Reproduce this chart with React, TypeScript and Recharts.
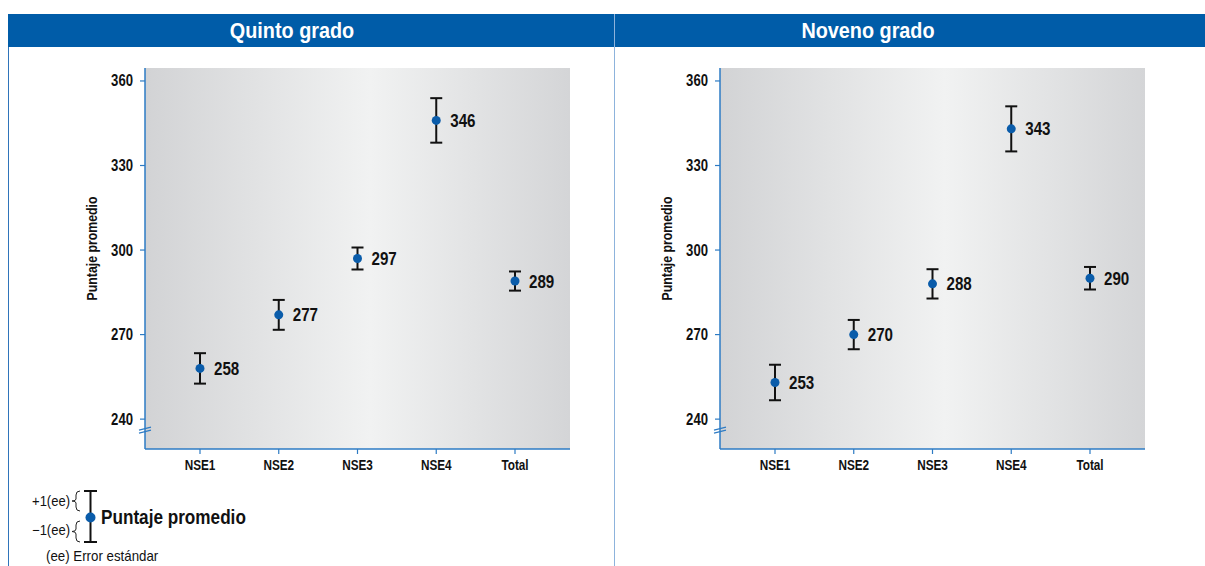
import React from "react";
import {
  ComposedChart,
  XAxis,
  YAxis,
  Scatter,
  ErrorBar,
  LabelList,
  CartesianGrid
} from "recharts";

const categories = ["NSE1", "NSE2", "NSE3", "NSE4", "Total"];
const quintoScores = [258, 277, 297, 346, 289];
const quintoErrors = [5.4, 5.3, 3.9, 7.9, 3.4];
const novenoScores = [253, 270, 288, 343, 290];
const novenoErrors = [6.3, 5.2, 5.2, 8.0, 4.0];
const yTicks = [240, 270, 300, 330, 360];
const yDomain = [229.4, 364.6];

// no condensed face is installed, so Arial-like glyphs get squeezed horizontally
const FONT = "'Liberation Sans', Arial, Helvetica, sans-serif";
const AXIS_BLUE = "#2d7bc4";
const DOT_BLUE = "#0a5caa";
const HEADER_BLUE = "#005ca8";

const buildRows = (scores: number[], errors: number[]) =>
  categories.map((cat, i) => ({ cat, v: scores[i], e: errors[i] }));

interface CTextProps {
  x: number;
  y: number;
  sx: number;
  size: number;
  bold?: boolean;
  anchor?: "start" | "middle" | "end";
  dy?: number;
  children: React.ReactNode;
}

const CText = ({ x, y, sx, size, bold, anchor = "start", dy = 0, children }: CTextProps) => (
  <text
    transform={`translate(${x} ${y}) scale(${sx} 1)`}
    x={0}
    y={dy}
    textAnchor={anchor}
    fontFamily={FONT}
    fontSize={size}
    fontWeight={bold ? "bold" : "normal"}
    fill="#111"
  >
    {children}
  </text>
);

// y tick with the axis break mark drawn under the lowest tick
const YTick = (props: any) => {
  const { x, y, payload } = props;
  const axisX = x + 12;
  return (
    <g>
      <CText x={x} y={y} dy={5.5} sx={0.82} size={16} bold anchor="end">
        {payload.value}
      </CText>
      {payload.value === 240 && (
        <g stroke={AXIS_BLUE} strokeWidth={1.2}>
          <line x1={axisX - 6} y1={y + 11} x2={axisX + 6} y2={y + 8} />
          <line x1={axisX - 6} y1={y + 14} x2={axisX + 6} y2={y + 11} />
        </g>
      )}
    </g>
  );
};

const XTick = (props: any) => {
  const { x, y, payload } = props;
  return (
    <CText x={x} y={y} dy={12.5} sx={0.76} size={15.5} bold anchor="middle">
      {payload.value}
    </CText>
  );
};

const yTitle = (props: any) => {
  const vb = props.viewBox || {};
  const cx = vb.x + vb.width - 53;
  const cy = vb.y + vb.height / 2 - 10;
  return (
    <text
      transform={`translate(${cx} ${cy}) rotate(-90) scale(0.85 1)`}
      x={0}
      y={0}
      textAnchor="middle"
      dominantBaseline="central"
      fontFamily={FONT}
      fontWeight="bold"
      fontSize={14.5}
      fill="#111"
    >
      Puntaje promedio
    </text>
  );
};

const valueLabel = (props: any) => {
  const { x, y, width, height, value } = props;
  const cx = x + (width || 0) / 2;
  const cy = y + (height || 0) / 2;
  return (
    <CText x={cx + 14} y={cy} dy={6.5} sx={0.82} size={18.5} bold>
      {value}
    </CText>
  );
};

const dot = (p: any) => <circle cx={p.cx} cy={p.cy} r={4.5} fill={DOT_BLUE} />;

interface GradeChartProps {
  id: string;
  scores: number[];
  errors: number[];
  width: number;
  yAxisWidth: number;
  rightMargin: number;
}

const GradeChart: React.FC<GradeChartProps> = ({
  id,
  scores,
  errors,
  width,
  yAxisWidth,
  rightMargin
}) => {
  const rows = buildRows(scores, errors);
  return (
    <ComposedChart
      width={width}
      height={470}
      data={rows}
      margin={{ top: 21, right: rightMargin, left: 0, bottom: 38 }}
    >
      <defs>
        <linearGradient id={id} x1="0" y1="0" x2="1" y2="0">
          <stop offset="0%" stopColor="#d2d3d5" />
          <stop offset="53%" stopColor="#f1f2f2" />
          <stop offset="100%" stopColor="#d4d5d7" />
        </linearGradient>
      </defs>
      <CartesianGrid
        horizontal={false}
        vertical={false}
        fill={`url(#${id})`}
        fillOpacity={1}
      />
      <XAxis
        dataKey="cat"
        type="category"
        padding={{ left: 55, right: 55 }}
        height={30}
        tickSize={5}
        tickMargin={3}
        axisLine={{ stroke: AXIS_BLUE, strokeWidth: 1.5 }}
        tickLine={{ stroke: AXIS_BLUE, strokeWidth: 1.2 }}
        tick={<XTick />}
        interval={0}
      />
      <XAxis
        xAxisId="top"
        dataKey="cat"
        orientation="top"
        height={0}
        tick={false}
        tickLine={false}
        axisLine={{ stroke: AXIS_BLUE, strokeWidth: 1.5 }}
      />
      <YAxis
        type="number"
        domain={yDomain}
        ticks={yTicks}
        width={yAxisWidth}
        tickSize={5}
        tickMargin={7}
        axisLine={{ stroke: AXIS_BLUE, strokeWidth: 1.5 }}
        tickLine={{ stroke: AXIS_BLUE, strokeWidth: 1.2 }}
        tick={<YTick />}
        allowDataOverflow
        label={yTitle}
      />
      <YAxis
        yAxisId="right"
        orientation="right"
        type="number"
        domain={yDomain}
        width={0}
        tick={false}
        tickLine={false}
        axisLine={{ stroke: AXIS_BLUE, strokeWidth: 1.5 }}
        allowDataOverflow
      />
      <Scatter dataKey="v" shape={dot} isAnimationActive={false}>
        <ErrorBar
          dataKey="e"
          direction="y"
          width={6}
          strokeWidth={2}
          stroke="#111"
          isAnimationActive={false}
        />
        <LabelList dataKey="v" content={valueLabel} />
      </Scatter>
    </ComposedChart>
  );
};

const Legend = () => (
  <svg width={320} height={96} style={{ position: "absolute", left: 0, top: 470 }}>
    <CText x={70} y={36} sx={0.93} size={14} anchor="end">
      +1(ee)
    </CText>
    <CText x={70} y={65} sx={0.93} size={14} anchor="end">
      −1(ee)
    </CText>
    <path
      d="M80 21 Q76 21 76 25 L76 29 Q76 31 72 31 Q76 31 76 33 L76 37 Q76 41 80 41"
      stroke="#222"
      strokeWidth={1}
      fill="none"
    />
    <path
      d="M80 51 Q76 51 76 55 L76 59 Q76 61.5 72 61.5 Q76 61.5 76 64 L76 68 Q76 72 80 72"
      stroke="#222"
      strokeWidth={1}
      fill="none"
    />
    <g stroke="#111" strokeWidth={2}>
      <line x1={90.5} y1={21} x2={90.5} y2={72} />
      <line x1={84} y1={21} x2={97} y2={21} />
      <line x1={84} y1={72} x2={97} y2={72} />
    </g>
    <circle cx={90.5} cy={47.5} r={5} fill={DOT_BLUE} />
    <CText x={101} y={54} sx={0.88} size={19.5} bold>
      Puntaje promedio
    </CText>
    <CText x={46} y={91} sx={0.95} size={14}>
      (ee) Error estándar
    </CText>
  </svg>
);

const titleStyle: React.CSSProperties = {
  position: "absolute",
  top: 14,
  height: 33,
  lineHeight: "33px",
  color: "#fff",
  fontFamily: FONT,
  fontWeight: "bold",
  fontSize: 22,
  transform: "translateX(-50%) scaleX(0.9)",
  whiteSpace: "nowrap"
};

export default function App() {
  return (
    <div
      style={{
        position: "fixed",
        left: 0,
        top: 0,
        width: 1205,
        height: 566,
        background: "#fff",
        overflow: "hidden"
      }}
    >
      <div
        style={{
          position: "absolute",
          left: 8,
          top: 14,
          width: 1197,
          height: 33,
          background: HEADER_BLUE
        }}
      />
      <div style={{ ...titleStyle, left: 292 }}>Quinto grado</div>
      <div style={{ ...titleStyle, left: 868 }}>Noveno grado</div>
      <div
        style={{
          position: "absolute",
          left: 8,
          top: 47,
          width: 1,
          height: 519,
          background: "#2f74ba"
        }}
      />
      <div
        style={{
          position: "absolute",
          left: 614,
          top: 14,
          width: 1,
          height: 552,
          background: "#8db3dc"
        }}
      />
      <div style={{ position: "absolute", left: 8, top: 47 }}>
        <GradeChart
          id="bgQuinto"
          scores={quintoScores}
          errors={quintoErrors}
          width={600}
          yAxisWidth={137}
          rightMargin={38}
        />
      </div>
      <div style={{ position: "absolute", left: 615, top: 47 }}>
        <GradeChart
          id="bgNoveno"
          scores={novenoScores}
          errors={novenoErrors}
          width={590}
          yAxisWidth={105}
          rightMargin={60}
        />
      </div>
      <Legend />
    </div>
  );
}
